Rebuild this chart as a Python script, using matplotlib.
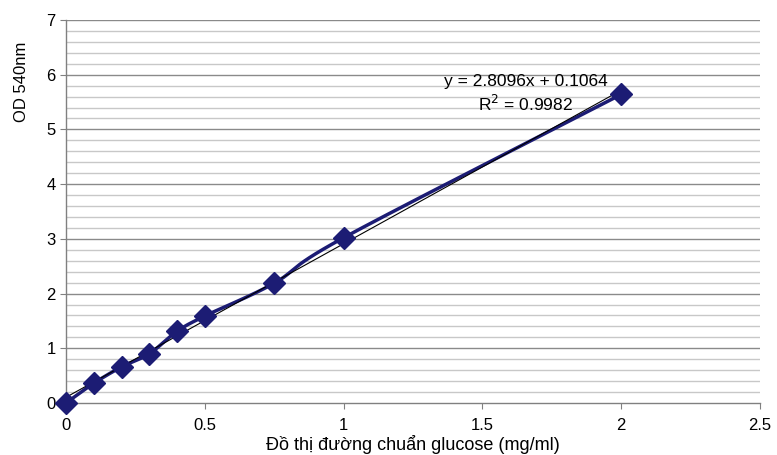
import matplotlib

matplotlib.use("Agg")

import matplotlib.pyplot as plt
import numpy as np

plt.rcParams["font.family"] = ["Liberation Sans", "DejaVu Sans"]

# glucose standard curve (mg/ml) vs OD 540nm
conc = [0, 0.1, 0.2, 0.3, 0.4, 0.5, 0.75, 1.0, 2.0]
od = [0.0, 0.36, 0.66, 0.90, 1.31, 1.59, 2.19, 3.02, 5.64]

x_ticks = [0, 0.5, 1, 1.5, 2, 2.5]
x_tick_labels = ["0", "0.5", "1", "1.5", "2", "2.5"]
y_ticks = [0, 1, 2, 3, 4, 5, 6, 7]

equation = "y = 2.8096x + 0.1064"
r2_text = "R$^2$ = 0.9982"

NAVY = "#1c1c74"


def smooth_curve(xs, ys, n=30):
    """Catmull-Rom style smoothing like Excel's smoothed line."""
    xs = np.asarray(xs, float)
    ys = np.asarray(ys, float)
    px = np.concatenate([[2 * xs[0] - xs[1]], xs, [2 * xs[-1] - xs[-2]]])
    py = np.concatenate([[2 * ys[0] - ys[1]], ys, [2 * ys[-1] - ys[-2]]])
    out_x, out_y = [], []
    t = np.linspace(0, 1, n)
    for i in range(1, len(px) - 2):
        p0, p1, p2, p3 = (np.array([px[j], py[j]]) for j in range(i - 1, i + 3))
        tt = t[:, None]
        pts = 0.5 * ((2 * p1) + (-p0 + p2) * tt
                     + (2 * p0 - 5 * p1 + 4 * p2 - p3) * tt ** 2
                     + (-p0 + 3 * p1 - 3 * p2 + p3) * tt ** 3)
        out_x.extend(pts[:, 0])
        out_y.extend(pts[:, 1])
    return out_x, out_y


fig = plt.figure(figsize=(7.77, 4.55), dpi=100)
ax = fig.add_axes([66 / 777, 52 / 455, 694 / 777, 383 / 455])

# gridlines: minor every 0.2, major every 1
for v in np.arange(0.2, 7.0, 0.2):
    if abs(v - round(v)) > 1e-6:
        ax.axhline(v, color="#c8c8c8", lw=1.0, zorder=0)
for v in y_ticks[1:]:
    ax.axhline(v, color="#8a8a8a", lw=1.0, zorder=0)

slope, intercept = np.polyfit(conc, od, 1)
fit_x = np.array([min(conc), max(conc)])
ax.plot(fit_x, slope * fit_x + intercept, color="black", lw=0.8, zorder=3)

sx, sy = smooth_curve(conc, od)
ax.plot(sx, sy, color=NAVY, lw=2.5, zorder=2)
ax.plot(conc, od, linestyle="none", marker="D", ms=11, color=NAVY,
        zorder=4, clip_on=False)

ax.text(1.657, 5.87, equation, fontsize=12.5, ha="center", va="center")
ax.text(1.657, 5.47, r2_text, fontsize=12.5, ha="center", va="center")

ax.set_xlim(0, 2.5)
ax.set_ylim(0, 7)
ax.set_xticks(x_ticks)
ax.set_xticklabels(x_tick_labels)
ax.set_yticks(y_ticks)
ax.tick_params(axis="both", labelsize=12, length=4, color="#808080", direction="out")
ax.tick_params(axis="x", pad=7)
for side in ("top", "right"):
    ax.spines[side].set_visible(False)
for side in ("left", "bottom"):
    ax.spines[side].set_color("#808080")
    ax.spines[side].set_linewidth(1.0)

ax.set_xlabel("Đồ thị đường chuẩn glucose (mg/ml)", fontsize=13)
ax.xaxis.set_label_coords(0.5, -0.084)
ax.set_ylabel("OD 540nm", fontsize=12)
ax.yaxis.set_label_coords(-0.054, 0.838)

fig.savefig("out.png", dpi=100)
